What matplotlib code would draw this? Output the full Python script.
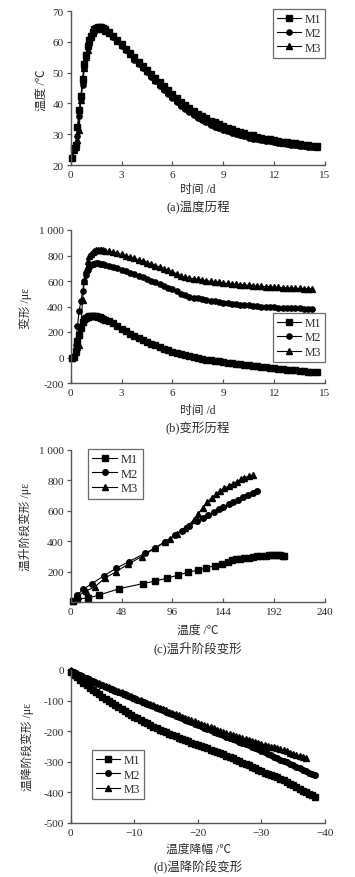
import matplotlib
matplotlib.use('Agg')
import matplotlib.pyplot as plt

plt.rcParams['font.family'] = ['Liberation Serif', 'Noto Sans CJK SC']

# ---------------- data ----------------
TIME_D = [0.1, 0.2, 0.3, 0.4, 0.5, 0.6, 0.7, 0.8, 0.9, 1.0, 1.1, 1.2, 1.3, 1.4, 1.5, 1.6, 1.7, 1.8, 1.9, 2.0,
          2.25, 2.5, 2.75, 3.0, 3.25, 3.5, 3.75, 4.0, 4.25, 4.5, 4.75, 5.0, 5.25, 5.5, 5.75, 6.0,
          6.25, 6.5, 6.75, 7.0, 7.25, 7.5, 7.75, 8.0, 8.25, 8.5, 8.75, 9.0, 9.25, 9.5, 9.75, 10.0,
          10.25, 10.5, 10.75, 11.0, 11.25, 11.5, 11.75, 12.0, 12.25, 12.5, 12.75, 13.0, 13.25, 13.5,
          13.75, 14.0, 14.25, 14.5]

TEMP_M1 = [22.4, 25.5, 26.5, 32.5, 38.0, 42.3, 48.0, 52.7, 55.8, 58.5, 60.5, 62.0, 63.2, 64.0, 64.5, 64.8, 64.9, 64.8, 64.5, 64.2,
           63.2, 62.0, 60.6, 59.2, 57.8, 56.4, 55.0, 53.6, 52.2, 50.9, 49.5, 48.1, 46.9, 45.6, 44.3, 43.0,
           41.8, 40.6, 39.5, 38.5, 37.6, 36.7, 35.9, 35.1, 34.4, 33.8, 33.2, 32.6, 32.1, 31.6, 31.1, 30.7,
           30.3, 29.9, 29.6, 29.2, 28.9, 28.6, 28.4, 28.1, 27.9, 27.6, 27.4, 27.2, 27.0, 26.8, 26.6, 26.4, 26.3, 26.1]
TEMP_M2 = [22.3, 24.8, 26.2, 29.5, 36.0, 41.5, 46.0, 51.5, 55.5, 58.2, 60.3, 62.0, 63.3, 64.0, 64.4, 64.6, 64.6, 64.4, 64.1, 63.7,
           62.7, 61.5, 60.1, 58.7, 57.3, 55.9, 54.2, 52.8, 51.4, 50.1, 48.7, 47.3, 45.6, 44.3, 43.0, 41.7,
           40.5, 39.3, 38.2, 37.2, 36.3, 35.4, 34.6, 33.8, 33.1, 32.5, 31.9, 31.4, 31.0, 30.5, 30.1, 29.7,
           29.3, 28.9, 28.6, 28.3, 28.1, 27.9, 27.7, 27.5, 27.3, 27.0, 26.8, 26.6, 26.5, 26.3, 26.1, 26.0, 25.9, 25.7]
TEMP_M3 = [22.5, 25.0, 26.0, 28.0, 31.5, 41.0, 47.5, 51.5, 55.0, 57.5, 60.0, 61.7, 63.0, 63.8, 64.2, 64.4, 64.4, 64.3, 64.0, 63.6,
           62.9, 61.8, 60.4, 59.0, 57.6, 56.2, 54.6, 53.2, 51.8, 50.5, 49.1, 47.7, 46.2, 44.9, 43.6, 42.3,
           41.1, 39.9, 38.8, 37.8, 36.9, 36.0, 35.2, 34.4, 33.7, 33.1, 32.5, 31.9, 31.5, 31.0, 30.6, 30.2,
           29.8, 29.4, 29.1, 28.7, 28.5, 28.2, 28.0, 27.8, 27.6, 27.3, 27.1, 26.9, 26.7, 26.5, 26.4, 26.2, 26.1, 25.9]

DEF_M1 = [0, 5, 50, 130, 180, 236, 280, 300, 312, 318, 322, 324, 325, 324, 322, 318, 314, 309, 303, 298,
          285, 268, 248, 224, 206, 188, 171, 155, 139, 124, 109, 95, 82, 69, 57, 46,
          36, 27, 18, 10, 3, -4, -10, -16, -21, -26, -31, -35, -40, -44, -48, -52,
          -56, -60, -64, -68, -72, -76, -80, -84, -88, -92, -95, -98, -101, -104, -107, -110, -112, -115]
DEF_M2 = [0, 10, 100, 250, 367, 440, 520, 600, 650, 685, 710, 722, 730, 735, 738, 738, 736, 733, 730, 727,
          721, 713, 702, 690, 678, 666, 653, 641, 628, 615, 602, 589, 576, 563, 549, 535,
          520, 500, 487, 478, 470, 463, 457, 451, 445, 440, 435, 430, 426, 422, 418, 414,
          411, 408, 405, 402, 400, 398, 396, 394, 392, 390, 389, 387, 386, 385, 383, 382, 381]
DEF_M3 = [0, 10, 40, 80, 100, 230, 450, 600, 690, 760, 795, 815, 828, 836, 840, 843, 844, 843, 840, 837,
          832, 826, 818, 808, 798, 788, 777, 766, 755, 745, 733, 721, 709, 697, 684, 671,
          657, 640, 630, 623, 617, 612, 607, 602, 597, 593, 589, 585, 581, 578, 575, 572,
          569, 566, 563, 561, 558, 556, 554, 552, 550, 548, 546, 545, 543, 542, 540, 539, 537]

RISE_X_M1 = [2, 6, 16, 27, 46, 68, 80, 91, 101, 111, 120, 128, 136, 143, 148, 152, 156, 160, 164, 168,
             172, 176, 180, 184, 187, 190, 193, 196, 198, 200, 201]
RISE_Y_M1 = [5, 22, 25, 46, 88, 121, 138, 157, 176, 196, 210, 226, 238, 252, 266, 274, 280, 284, 287, 291,
             296, 300, 303, 305, 307, 309, 310, 310, 308, 305, 300]
RISE_X_M2 = [2, 6, 12, 20, 31, 43, 55, 70, 80, 89, 98, 105, 112, 119, 125, 130, 135, 140, 144, 149,
             153, 158, 163, 167, 172, 176]
RISE_Y_M2 = [7, 45, 84, 121, 171, 222, 266, 320, 358, 397, 440, 470, 500, 530, 555, 575, 592, 610, 625, 642,
             657, 672, 688, 702, 718, 730]
RISE_X_M3 = [2, 7, 14, 23, 32, 43, 54, 67, 80, 89, 94, 100, 108, 116, 120, 125, 129, 133, 137, 141,
             145, 149, 153, 157, 161, 164, 168, 172]
RISE_Y_M3 = [5, 40, 70, 101, 156, 200, 248, 299, 355, 395, 412, 450, 489, 537, 580, 621, 655, 687, 710, 730,
             748, 763, 778, 792, 806, 818, 828, 836]

DROP_X = [0, -0.5, -1, -1.5, -2, -2.5, -3, -3.5, -4, -4.5, -5, -5.5, -6, -6.5, -7, -7.5, -8, -8.5, -9, -9.5,
          -10, -10.5, -11, -11.5, -12, -12.5, -13, -13.5, -14, -14.5, -15, -15.5, -16, -16.5, -17, -17.5,
          -18, -18.5, -19, -19.5, -20, -20.5, -21, -21.5, -22, -22.5, -23, -23.5, -24, -24.5, -25, -25.5,
          -26, -26.5, -27, -27.5, -28, -28.5, -29, -29.5, -30, -30.5, -31, -31.5, -32, -32.5, -33, -33.5,
          -34, -34.5, -35, -35.5, -36, -36.5, -37, -37.5, -38, -38.5]
DROP_M1 = [-6, -15, -24, -32, -41, -49, -58, -66, -73, -80, -87, -94, -101, -108, -115, -122, -129, -135, -141, -147,
           -152, -158, -163, -169, -174, -179, -185, -190, -195, -199, -204, -208, -213, -217, -221, -225,
           -229, -233, -237, -241, -245, -249, -252, -256, -260, -264, -268, -272, -276, -280, -285, -289,
           -294, -298, -303, -307, -312, -316, -321, -326, -331, -335, -339, -343, -347, -351, -356, -361,
           -366, -372, -377, -383, -388, -394, -399, -405, -410, -416]
DROP_M2 = [-2, -7, -12, -17, -22, -27, -32, -37, -42, -46, -50, -55, -59, -63, -67, -71, -76, -80, -84, -88,
           -93, -97, -101, -106, -110, -115, -119, -124, -128, -132, -137, -141, -145, -149, -153, -158,
           -162, -167, -171, -176, -180, -184, -188, -193, -197, -201, -205, -210, -214, -218, -222, -226,
           -230, -234, -238, -242, -246, -250, -255, -259, -264, -268, -273, -278, -283, -288, -293, -298,
           -302, -307, -312, -316, -321, -326, -330, -335, -339, -344]
DROP_M3 = [-1, -6, -11, -16, -21, -26, -31, -35, -40, -44, -48, -53, -57, -61, -65, -69, -73, -77, -82, -86,
           -90, -94, -98, -103, -107, -111, -116, -120, -124, -128, -132, -136, -140, -144, -148, -152,
           -156, -160, -164, -168, -172, -176, -180, -183, -187, -191, -195, -199, -202, -206, -210, -213,
           -216, -219, -222, -225, -228, -231, -234, -237, -241, -244, -247, -250, -253, -256, -259, -263,
           -266, -270, -273, -277, -280, -284, -287]

SERIES = ['M1', 'M2', 'M3']
MARKERS = ['s', 'o', '^']

# ---------------- layout ----------------
W, H = 355, 878
fig = plt.figure(figsize=(W / 100, H / 100), dpi=100)
TXT = '#2a2a2a'
AX = '#555555'
FS_TICK = 8
FS_LAB = 8.5
FS_CAP = 9
FS_LEG = 8.5


def make_ax(top, bottom, left=70.7, right=325):
    return fig.add_axes([left / W, 1 - bottom / H, (right - left) / W, (bottom - top) / H])


def style(ax):
    for s in ['top', 'right']:
        ax.spines[s].set_visible(False)
    for s in ['left', 'bottom']:
        ax.spines[s].set_color(AX)
        ax.spines[s].set_linewidth(1.0)
    ax.tick_params(axis='x', direction='in', length=3, width=0.9, color=AX,
                   labelsize=FS_TICK, labelcolor=TXT, pad=3.5)
    ax.tick_params(axis='y', direction='out', length=3, width=0.9, color=AX,
                   labelsize=FS_TICK, labelcolor=TXT, pad=2)


def ftxt(x, y, s, rot=0, fs=FS_LAB):
    fig.text(x / W, 1 - y / H, s, ha='center', va='center', fontsize=fs,
             color=TXT, rotation=rot)


def draw(ax, xs, ys, ms=3.8):
    for x, y, lab, mk in zip(xs, ys, SERIES, MARKERS):
        ax.plot(x, y, marker=mk, ms=ms if mk != '^' else ms + 0.6, color='black',
                mfc='black', mec='black', lw=0.8, label=lab, clip_on=False)


def legend(ax, loc, anchor, fs=FS_LEG):
    leg = ax.legend(loc=loc, bbox_to_anchor=anchor, frameon=True, fancybox=False,
                    edgecolor='#444444', fontsize=fs, handlelength=2.0,
                    handletextpad=0.3, borderpad=0.35, labelspacing=0.2,
                    borderaxespad=0)
    leg.get_frame().set_linewidth(0.9)
    for t in leg.get_texts():
        t.set_color(TXT)


# (a) temperature history
axa = make_ax(12, 166)
style(axa)
draw(axa, [TIME_D, TIME_D, TIME_D], [TEMP_M1, TEMP_M2, TEMP_M3])
axa.set_xlim(0, 15)
axa.set_ylim(20, 70)
axa.set_xticks([0, 3, 6, 9, 12, 15])
axa.set_yticks([20, 30, 40, 50, 60, 70])
legend(axa, 'upper right', (1.0, 1.015))
ftxt(41.5, 90, '温度 /℃', rot=90)
ftxt(198, 190, '时间 /d')
ftxt(198, 208, '(a)温度历程', fs=FS_CAP)

# (b) deformation history
axb = make_ax(231, 384)
style(axb)
draw(axb, [TIME_D, TIME_D[:len(DEF_M2)], TIME_D[:len(DEF_M3)]], [DEF_M1, DEF_M2, DEF_M3])
axb.set_xlim(0, 15)
axb.set_ylim(-200, 1000)
axb.set_xticks([0, 3, 6, 9, 12, 15])
axb.set_yticks([-200, 0, 200, 400, 600, 800, 1000])
axb.set_yticklabels(['-200', '0', '200', '400', '600', '800', '1 000'])
legend(axb, 'upper right', (1.0, 0.458))
ftxt(25, 308, '变形 /με', rot=90)
ftxt(198, 411, '时间 /d')
ftxt(198, 429, '(b)变形历程', fs=FS_CAP)

# (c) heating stage deformation
axc = make_ax(451, 603)
style(axc)
draw(axc, [RISE_X_M1, RISE_X_M2, RISE_X_M3], [RISE_Y_M1, RISE_Y_M2, RISE_Y_M3], ms=4.0)
axc.set_xlim(0, 240)
axc.set_ylim(0, 1000)
axc.set_xticks([0, 48, 96, 144, 192, 240])
axc.set_yticks([200, 400, 600, 800, 1000])
axc.set_yticklabels(['200', '400', '600', '800', '1 000'])
legend(axc, 'upper left', (0.068, 1.007), fs=9)
ftxt(25, 527, '温升阶段变形 /με', rot=90)
ftxt(198, 631, '温度 /℃')
ftxt(198, 648, '(c)温升阶段变形', fs=FS_CAP)

# (d) cooling stage deformation
axd = make_ax(671, 824)
style(axd)
draw(axd, [DROP_X, DROP_X, DROP_X[:len(DROP_M3)]], [DROP_M1, DROP_M2, DROP_M3], ms=4.0)
axd.set_xlim(0, -40)
axd.set_ylim(-500, 0)
axd.set_xticks([0, -10, -20, -30, -40])
axd.set_xticklabels(['0', '\u221210', '\u221220', '\u221230', '\u221240'])
axd.set_yticks([-500, -400, -300, -200, -100, 0])
axd.set_yticklabels(['-500', '-400', '-300', '-200', '-100', '0'])
legend(axd, 'upper left', (0.084, 0.477))
ftxt(27, 747, '温降阶段变形 /με', rot=90)
ftxt(198, 850, '温度降幅 /℃')
ftxt(198, 868, '(d)温降阶段变形', fs=FS_CAP)

fig.savefig('out.png', dpi=100, facecolor='white')
